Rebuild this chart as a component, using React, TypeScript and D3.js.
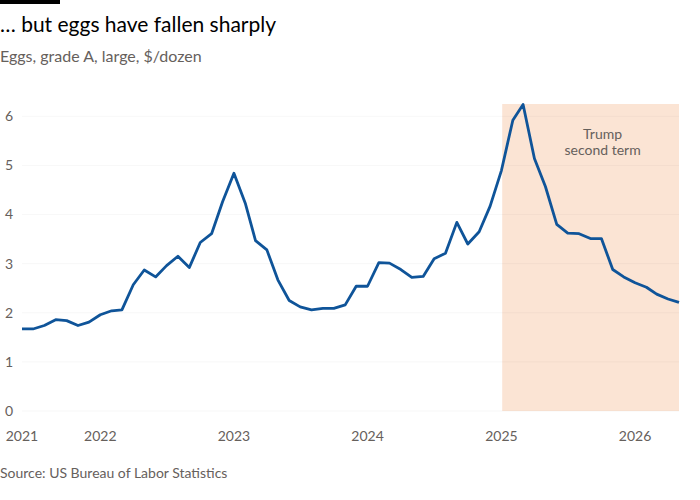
import React from 'react';
import * as d3 from 'd3';

// monthly average price, June 2021 to May 2026
const startMonth = new Date(2021, 5, 1);
const prices = [
  1.67, 1.67, 1.74, 1.86, 1.84, 1.74, 1.81,
  1.96, 2.04, 2.06, 2.57, 2.87, 2.73, 2.96, 3.15, 2.92, 3.43, 3.61, 4.26,
  4.84, 4.23, 3.47, 3.28, 2.67, 2.25, 2.12, 2.06, 2.09, 2.09, 2.16, 2.54,
  2.54, 3.02, 3.01, 2.88, 2.72, 2.74, 3.10, 3.21, 3.84, 3.40, 3.65, 4.17,
  4.90, 5.92, 6.24, 5.14, 4.57, 3.80, 3.62, 3.61, 3.51, 3.51, 2.88, 2.73,
  2.61, 2.52, 2.38, 2.28, 2.21,
];
const yTicks = [0, 1, 2, 3, 4, 5, 6];
const yearLabels = ['2021', '2022', '2023', '2024', '2025', '2026'];
const termStart = new Date(2025, 0, 3);
const termLabel = ['Trump', 'second term'];

const width = 700;
const height = 500;
const font = 'Lato, "Open Sans", sans-serif';
const grey = '#66605c';

export default function App() {
  const data = prices.map((v, i) => ({
    date: d3.timeMonth.offset(startMonth, i),
    value: v,
  }));
  const lastDate = data[data.length - 1].date;

  const x = d3.scaleTime().domain([startMonth, lastDate]).range([22, 679]);
  const y = d3.scaleLinear().domain([0, 6.25]).range([411, 104]);

  const line = d3
    .line<{ date: Date; value: number }>()
    .x((d) => x(d.date))
    .y((d) => y(d.value));

  // first label sits at the start of the series, the rest on January
  const yearPos = yearLabels.map((label, i) =>
    i === 0 ? x(startMonth) : x(new Date(+label, 0, 1))
  );

  const shadeX = x(termStart);
  const shadeW = x(lastDate) - shadeX;

  return (
    <svg
      width={width}
      height={height}
      style={{ position: 'absolute', left: 0, top: 0, background: '#fff' }}
      fontFamily={font}
    >
      <rect x={0} y={0} width={60} height={4} fill="#000" />
      <text x={0} y={32} fontSize={21} fill="#000">
        … but eggs have fallen sharply
      </text>
      <text x={0} y={62} fontSize={16} fill={grey}>
        Eggs, grade A, large, $/dozen
      </text>

      <rect x={shadeX} y={y(6.25)} width={shadeW} height={y(0) - y(6.25)} fill="#fbe4d4" />

      {yTicks.map((t) => (
        <g key={t}>
          <line x1={22} x2={679} y1={y(t)} y2={y(t)} stroke="#000" strokeOpacity={0.03} />
          <text x={5} y={y(t)} dy="0.35em" fontSize={14} fill={grey}>
            {t}
          </text>
        </g>
      ))}

      {termLabel.map((s, i) => (
        <text
          key={s}
          x={shadeX + shadeW / 2 + 12}
          y={139 + i * 16}
          textAnchor="middle"
          fontSize={14}
          fill={grey}
        >
          {s}
        </text>
      ))}

      <path
        d={line(data) || ''}
        fill="none"
        stroke="#0f5499"
        strokeWidth={2.8}
        strokeLinejoin="round"
      />

      {yearLabels.map((label, i) => (
        <text key={label} x={yearPos[i]} y={441} textAnchor="middle" fontSize={14} fill={grey}>
          {label}
        </text>
      ))}

      <text x={0} y={478} fontSize={14} fill={grey}>
        Source: US Bureau of Labor Statistics
      </text>
    </svg>
  );
}
